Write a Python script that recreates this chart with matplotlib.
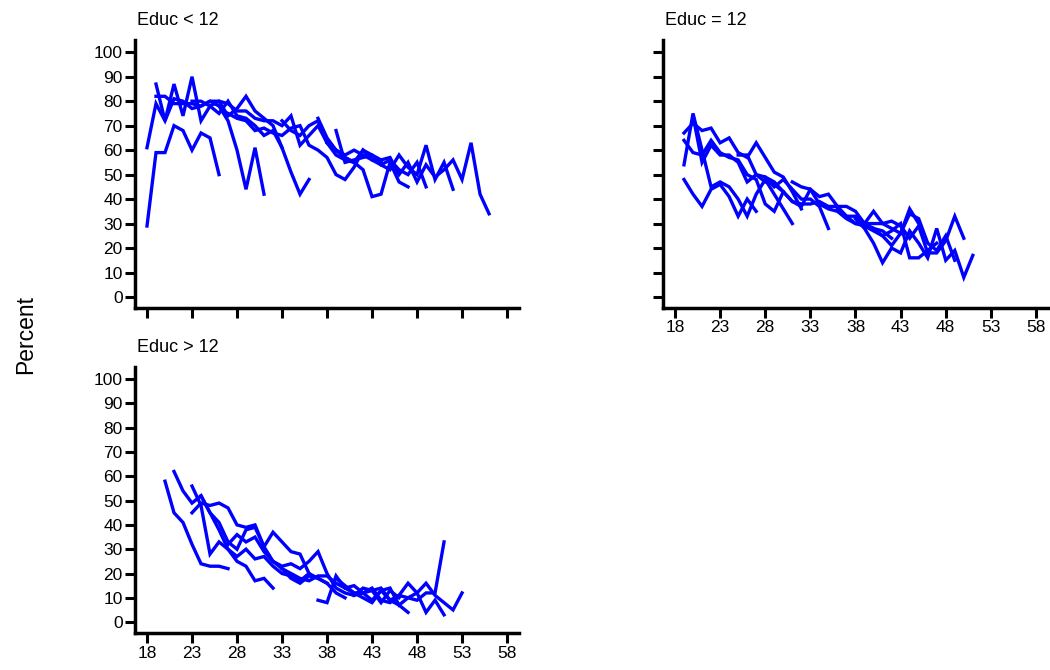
import matplotlib
matplotlib.use('Agg')
import matplotlib.pyplot as plt
import numpy as np

plt.rcParams['font.family'] = ['Liberation Sans', 'DejaVu Sans']

# cohort lines: (first age, percentages by single year of age)
educ_lt12 = [
    (18, [29, 59, 59, 70, 68, 60, 67, 65, 50]),
    (18, [61, 79, 72, 81, 80, 77, 78, 80, 78, 72, 60, 44, 61, 42]),
    (19, [87, 72, 87, 74, 90, 72, 78, 75, 80, 74, 73, 70, 66, 68, 61, 51, 42, 48]),
    (19, [82, 82, 79, 79, 79, 78, 80, 80, 74, 77, 82, 76, 73, 70, 61]),
    (23, [80, 80, 78, 80, 79, 76, 76, 73, 72, 72, 70, 74, 62, 66, 70, 63, 58, 56, 55]),
    (27, [75, 73, 72, 68, 69, 67, 66, 69, 70, 62, 60, 57, 50, 48, 53, 60, 56, 55]),
    (37, [73, 65, 60, 57, 55, 52, 41, 42, 55, 47, 45]),
    (33, [72, 68, 66, 70, 72, 63, 60, 58, 60, 58, 56, 54, 52, 58, 53, 50, 62, 48, 55, 44]),
    (39, [68, 55, 56, 57, 58, 56, 57, 50, 55, 47, 54, 49, 52, 56, 48, 63, 42, 34]),
    (38, [63, 60, 57, 55, 60, 58, 54, 56, 52, 50, 55, 45]),
]

educ_eq12 = [
    (19, [54, 75, 60, 45, 47, 45, 40, 33, 42, 48, 42, 36, 30]),
    (19, [67, 71, 68, 69, 63, 65, 59, 57, 63, 57, 51, 49, 43, 36]),
    (19, [48, 42, 37, 44, 46, 41, 33, 40, 35]),
    (19, [64, 59, 58, 64, 59, 57, 56, 50, 48, 38, 35, 43]),
    (20, [74, 55, 62, 58, 58, 55, 47, 50, 49, 45, 48, 44, 40, 40, 37, 28]),
    (25, [58, 58, 50, 47, 46, 43, 39, 38, 38, 39, 37, 37, 37, 35, 30, 28, 27, 24]),
    (28, [49, 47, 43, 39, 37, 44, 41, 42, 37, 33, 30, 30, 35, 30, 28, 26, 36, 30]),
    (31, [47, 45, 44, 38, 36, 35, 32, 30, 29, 27, 25, 27, 30, 16, 16, 19, 22]),
    (36, [36, 33, 33, 30, 30, 30, 31, 29, 24, 29, 18, 18, 23, 33, 24]),
    (38, [32, 28, 22, 14, 20, 18, 27, 22, 16, 28, 15, 19, 8, 17]),
    (40, [28, 25, 21, 26, 34, 32, 22, 19, 25, 15]),
]

educ_gt12 = [
    (20, [58, 45, 41, 32, 24, 23, 23, 22]),
    (21, [62, 54, 49, 52, 45, 38, 30, 25, 23, 17, 18, 14]),
    (23, [56, 48, 28, 33, 30, 27, 30, 26, 27, 23, 20, 19, 17, 20]),
    (23, [45, 49, 48, 49, 47, 40, 39, 40, 31, 37, 33, 29, 28, 20, 18, 16]),
    (24, [52, 45, 41, 33, 30, 38, 39, 31, 25, 22, 18, 16, 19, 18, 16, 12, 10]),
    (27, [32, 36, 33, 35, 29, 25, 23, 24, 22, 25, 29, 20, 14, 12, 11, 14, 13, 8, 13, 10]),
    (37, [9, 8, 19, 14, 15, 12, 14, 9, 8, 11, 10, 9, 12, 12, 33]),
    (33, [22, 20, 18, 17, 19, 19, 16, 14, 12, 12, 13, 14, 9, 7, 4]),
    (39, [18, 15, 12, 10, 8, 13, 14, 7, 10, 12, 16, 11, 8, 5, 12]),
    (41, [11, 12, 9, 13, 9, 11, 16, 12, 4, 9, 3]),
]

titles = ['Educ < 12', 'Educ = 12', 'Educ > 12']
xticks = np.arange(18, 59, 5)
yticks = np.arange(0, 101, 10)

fig = plt.figure(figsize=(10.5, 6.7), dpi=100)
ax1 = fig.add_axes([0.1286, 0.5403, 0.3657, 0.400])
ax2 = fig.add_axes([0.6314, 0.5403, 0.3667, 0.400])
ax3 = fig.add_axes([0.1286, 0.0552, 0.3657, 0.397])

panels = [(ax1, educ_lt12, False, True),
          (ax2, educ_eq12, True, False),
          (ax3, educ_gt12, True, True)]

for i, (ax, cohorts, xlab, ylab) in enumerate(panels):
    for start, vals in cohorts:
        ages = np.arange(start, start + len(vals))
        ax.plot(ages, vals, color='#0000ff', lw=2.4, solid_joinstyle='miter')
    ax.set_xlim(16.67, 59.33)
    ax.set_ylim(-4.5, 105)
    ax.set_xticks(xticks)
    ax.set_yticks(yticks)
    ax.tick_params(length=7, width=2.2, labelsize=12.5, pad=2)
    if not xlab:
        ax.set_xticklabels([])
    if not ylab:
        ax.set_yticklabels([])
    for s in ['top', 'right']:
        ax.spines[s].set_visible(False)
    for s in ['left', 'bottom']:
        ax.spines[s].set_linewidth(2.5)
    ax.set_title(titles[i], loc='left', fontsize=13, pad=11, x=0.005)

fig.text(0.024, 0.5, 'Percent', rotation=90, va='center', ha='center', fontsize=16.5)

fig.savefig('out.png', dpi=100)
